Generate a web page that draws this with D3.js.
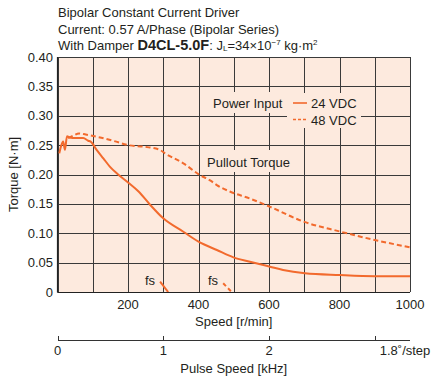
<!DOCTYPE html>
<html><head><meta charset="utf-8">
<script src="https://cdn.jsdelivr.net/npm/d3@7"></script>
<style>
html,body{margin:0;padding:0;background:#fff;}
svg text{font-family:"Liberation Sans",Arial,sans-serif;fill:#231f20;}
</style></head>
<body><svg id="c" width="431" height="379"></svg>
<script>
// ---- data ----
const titleLines = ["Bipolar Constant Current Driver", "Current: 0.57 A/Phase (Bipolar Series)"];
const yTicks = [0, 0.05, 0.10, 0.15, 0.20, 0.25, 0.30, 0.35, 0.40];
const yTickLabels = ["0", "0.05", "0.10", "0.15", "0.20", "0.25", "0.30", "0.35", "0.40"];
const xGrid = [0, 100, 200, 300, 400, 500, 600, 700, 800, 900, 1000];
const xTickLabels = [200, 400, 600, 800, 1000];
const pulseTicks = [0, 1, 2, 3];
const pulseLabels = ["0", "1", "2", "1.8˚/step"];
const speed24 = [5, 11, 16, 21, 27, 35, 50, 73, 87, 94, 111, 130, 149, 172, 201, 230, 262, 300, 357, 400, 452, 499, 546, 603, 640, 702, 801, 900, 1000];
const torque24 = [0.236, 0.250, 0.256, 0.242, 0.265, 0.263, 0.262, 0.262, 0.2575, 0.256, 0.242, 0.2275, 0.213, 0.200, 0.186, 0.171, 0.149, 0.1254, 0.1026, 0.0856, 0.0715, 0.059, 0.0516, 0.043, 0.0375, 0.032, 0.029, 0.027, 0.0267];
const speed48 = [30, 45, 61, 80, 121, 160, 201, 250, 291, 305, 357, 404, 433, 452, 489, 546, 603, 697, 801, 900, 1000];
const torque48 = [0.262, 0.266, 0.270, 0.268, 0.263, 0.257, 0.250, 0.247, 0.2417, 0.236, 0.219, 0.199, 0.190, 0.182, 0.171, 0.159, 0.145, 0.120, 0.103, 0.0885, 0.076];
const fs24Speed = [291, 314], fs24Torque = [0.0175, 0];
const fs48Speed = [470, 494], fs48Torque = [0.0148, 0];

// ---- layout ----
const svg = d3.select("#c");
const L = 57.5, R = 410, T = 57, B = 292;
const x = d3.scaleLinear().domain([0, 1000]).range([L, R]);
const y = d3.scaleLinear().domain([0, 0.40]).range([B, T]);
const xk = d3.scaleLinear().domain([0, 1000 * 200 / 60 / 1000]).range([L, R]);
const orange = "#f26a2d", bg = "#fdeade", grid = "#3a3a3a";

// title
titleLines.forEach((t, i) => svg.append("text").attr("x", 58).attr("y", 17 + i * 16.5).attr("font-size", 13).text(t));
const t3 = svg.append("text").attr("x", 58).attr("y", 50).attr("font-size", 13);
t3.append("tspan").text("With Damper ");
t3.append("tspan").attr("font-weight", "bold").attr("font-size", 14.5).text("D4CL-5.0F");
t3.append("tspan").text(": J");
t3.append("tspan").attr("font-size", 8).attr("dy", 1).text("L");
t3.append("tspan").attr("dy", -1).text("=34×10");
t3.append("tspan").attr("font-size", 8).attr("dy", -5).text("−7");
t3.append("tspan").attr("dy", 5).text(" kg·m");
t3.append("tspan").attr("font-size", 8).attr("dy", -5).text("2");

// plot background
svg.append("rect").attr("x", L).attr("y", T).attr("width", R - L).attr("height", B - T).attr("fill", bg);

// grid
const g = svg.append("g").attr("shape-rendering", "crispEdges");
g.selectAll("line.v").data(xGrid).join("line")
  .attr("x1", d => Math.round(x(d)) + 0.5).attr("x2", d => Math.round(x(d)) + 0.5)
  .attr("y1", T).attr("y2", B).attr("stroke", grid).attr("stroke-width", 1);
g.selectAll("line.h").data(yTicks).join("line")
  .attr("y1", d => Math.round(y(d)) + 0.5).attr("y2", d => Math.round(y(d)) + 0.5)
  .attr("x1", L).attr("x2", R).attr("stroke", grid).attr("stroke-width", 1);

// label boxes masking grid
const boxes = [[208, 92, 82, 21], [287, 93, 74, 35], [203, 150, 92, 22]];
boxes.forEach(b => svg.append("rect").attr("x", b[0]).attr("y", b[1]).attr("width", b[2]).attr("height", b[3]).attr("fill", bg));

// axis lines
svg.append("line").attr("x1", L).attr("x2", L).attr("y1", T).attr("y2", B + 0.5).attr("stroke", "#222").attr("stroke-width", 1.2);
svg.append("line").attr("x1", L).attr("x2", R).attr("y1", B + 0.5).attr("y2", B + 0.5).attr("stroke", "#222").attr("stroke-width", 1.2);

// y tick labels
svg.selectAll("text.yt").data(yTicks).join("text")
  .attr("x", 53).attr("y", d => y(d) + 4.5).attr("text-anchor", "end").attr("font-size", 13)
  .text((d, i) => yTickLabels[i]);
svg.append("text").attr("transform", `translate(18,${(T + B) / 2}) rotate(-90)`)
  .attr("text-anchor", "middle").attr("font-size", 13).text("Torque [N·m]");

// x tick labels
svg.selectAll("text.xt").data(xTickLabels).join("text")
  .attr("x", d => x(d)).attr("y", 309).attr("text-anchor", "middle").attr("font-size", 13).text(d => d);
svg.append("text").attr("x", (L + R) / 2).attr("y", 326).attr("text-anchor", "middle").attr("font-size", 13).text("Speed [r/min]");

// pulse axis
const pa = svg.append("g").attr("shape-rendering", "crispEdges");
pa.append("line").attr("x1", L).attr("x2", R).attr("y1", 340.5).attr("y2", 340.5).attr("stroke", "#333");
pa.selectAll("line.pt").data(pulseTicks).join("line")
  .attr("x1", d => Math.round(xk(d)) + 0.5).attr("x2", d => Math.round(xk(d)) + 0.5)
  .attr("y1", 336).attr("y2", 340.5).attr("stroke", "#333");
svg.selectAll("text.pl").data(pulseTicks).join("text")
  .attr("x", (d, i) => i === 3 ? xk(d) + 5 : xk(d)).attr("y", 355)
  .attr("text-anchor", (d, i) => i === 3 ? "start" : "middle").attr("font-size", 13)
  .text((d, i) => pulseLabels[i]);
svg.append("text").attr("x", (L + R) / 2).attr("y", 373).attr("text-anchor", "middle").attr("font-size", 13).text("Pulse Speed [kHz]");

// curves
svg.append("clipPath").attr("id", "clip").append("rect").attr("x", L).attr("y", T).attr("width", R - L).attr("height", B - T);
const cg = svg.append("g").attr("clip-path", "url(#clip)");
const line = d3.line().x(d => x(d[0])).y(d => y(d[1])).curve(d3.curveMonotoneX);
cg.append("path").attr("d", line(d3.zip(speed24, torque24))).attr("fill", "none").attr("stroke", orange).attr("stroke-width", 2);
cg.append("path").attr("d", line(d3.zip(speed48, torque48))).attr("fill", "none").attr("stroke", orange).attr("stroke-width", 2).attr("stroke-dasharray", "5,3");
cg.append("path").attr("d", line(d3.zip(fs24Speed, fs24Torque))).attr("fill", "none").attr("stroke", orange).attr("stroke-width", 2);
cg.append("path").attr("d", line(d3.zip(fs48Speed, fs48Torque))).attr("fill", "none").attr("stroke", orange).attr("stroke-width", 2).attr("stroke-dasharray", "4,3");

// labels in plot
svg.append("text").attr("x", 213).attr("y", 108).attr("font-size", 13).text("Power Input");
svg.append("line").attr("x1", 293).attr("x2", 307).attr("y1", 103).attr("y2", 103).attr("stroke", orange).attr("stroke-width", 1.6);
svg.append("line").attr("x1", 293).attr("x2", 307).attr("y1", 119.5).attr("y2", 119.5).attr("stroke", orange).attr("stroke-width", 1.6).attr("stroke-dasharray", "3,2");
svg.append("text").attr("x", 311).attr("y", 108).attr("font-size", 13).text("24 VDC");
svg.append("text").attr("x", 311).attr("y", 124.5).attr("font-size", 13).text("48 VDC");
svg.append("text").attr("x", 207).attr("y", 167).attr("font-size", 13).text("Pullout Torque");
svg.append("text").attr("x", 145).attr("y", 285).attr("font-size", 13).text("fs");
svg.append("text").attr("x", 208).attr("y", 285).attr("font-size", 13).text("fs");
</script></body></html>
